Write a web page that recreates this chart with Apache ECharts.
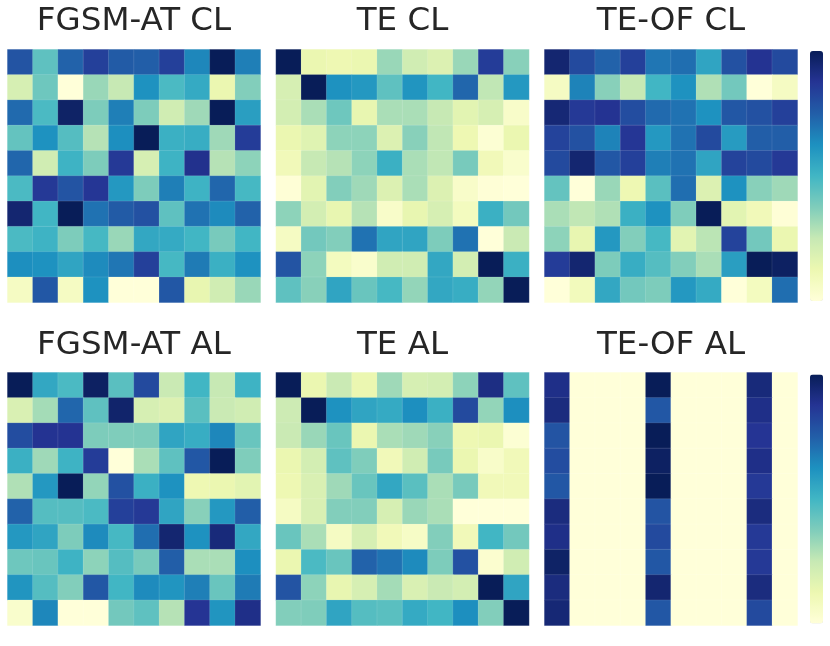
<!DOCTYPE html>
<html>
<head>
<meta charset="utf-8">
<script src="https://cdn.jsdelivr.net/npm/echarts@6/dist/echarts.min.js"></script>
<style>
  html, body { margin: 0; padding: 0; background: #fff; }
  #chart { width: 830px; height: 646px; }
</style>
</head>
<body>
<div id="chart"></div>
<script>
// 各子图的 10x10 数值（按行，从上到下），数值已归一化到 0~1
var fgsmCL = [
    [0.78, 0.44, 0.74, 0.84, 0.76, 0.75, 0.84, 0.65, 1.00, 0.67],
    [0.20, 0.41, 0.00, 0.33, 0.25, 0.62, 0.48, 0.54, 0.13, 0.37],
    [0.72, 0.48, 0.97, 0.38, 0.67, 0.38, 0.22, 0.32, 1.00, 0.58],
    [0.43, 0.62, 0.46, 0.28, 0.63, 1.00, 0.52, 0.53, 0.32, 0.85],
    [0.73, 0.22, 0.51, 0.38, 0.86, 0.20, 0.51, 0.89, 0.28, 0.35],
    [0.48, 0.86, 0.78, 0.87, 0.60, 0.38, 0.67, 0.51, 0.73, 0.49],
    [0.95, 0.50, 1.00, 0.70, 0.76, 0.79, 0.44, 0.70, 0.64, 0.74],
    [0.48, 0.51, 0.38, 0.49, 0.33, 0.55, 0.54, 0.50, 0.39, 0.50],
    [0.63, 0.62, 0.56, 0.64, 0.69, 0.84, 0.49, 0.68, 0.52, 0.62],
    [0.07, 0.77, 0.07, 0.62, 0.00, 0.00, 0.77, 0.14, 0.22, 0.33]
];
var teCL = [
    [1.00, 0.13, 0.12, 0.13, 0.33, 0.22, 0.18, 0.33, 0.85, 0.36],
    [0.20, 1.00, 0.62, 0.60, 0.44, 0.61, 0.50, 0.73, 0.26, 0.60],
    [0.21, 0.30, 0.41, 0.14, 0.30, 0.30, 0.25, 0.16, 0.20, 0.05],
    [0.13, 0.17, 0.35, 0.35, 0.18, 0.36, 0.26, 0.12, 0.02, 0.13],
    [0.10, 0.25, 0.28, 0.35, 0.52, 0.30, 0.26, 0.39, 0.10, 0.04],
    [0.01, 0.16, 0.37, 0.32, 0.18, 0.30, 0.18, 0.05, 0.01, 0.00],
    [0.35, 0.21, 0.14, 0.28, 0.05, 0.14, 0.20, 0.08, 0.52, 0.40],
    [0.07, 0.40, 0.37, 0.70, 0.56, 0.56, 0.38, 0.70, 0.00, 0.24],
    [0.78, 0.35, 0.08, 0.04, 0.22, 0.22, 0.55, 0.21, 1.00, 0.52],
    [0.44, 0.36, 0.56, 0.42, 0.49, 0.34, 0.55, 0.53, 0.34, 1.00]
];
var teofCL = [
    [0.95, 0.81, 0.74, 0.84, 0.69, 0.71, 0.56, 0.79, 0.88, 0.81],
    [0.07, 0.66, 0.36, 0.25, 0.50, 0.62, 0.29, 0.40, 0.00, 0.07],
    [0.94, 0.86, 0.88, 0.80, 0.72, 0.70, 0.62, 0.77, 0.79, 0.84],
    [0.83, 0.79, 0.66, 0.87, 0.60, 0.70, 0.81, 0.59, 0.75, 0.75],
    [0.81, 0.95, 0.77, 0.84, 0.67, 0.70, 0.56, 0.83, 0.81, 0.86],
    [0.43, 0.00, 0.33, 0.12, 0.45, 0.71, 0.18, 0.62, 0.36, 0.32],
    [0.30, 0.26, 0.29, 0.52, 0.62, 0.375, 1.00, 0.16, 0.10, 0.01],
    [0.35, 0.14, 0.60, 0.37, 0.49, 0.16, 0.27, 0.83, 0.40, 0.13],
    [0.85, 0.95, 0.38, 0.53, 0.46, 0.37, 0.30, 0.58, 1.00, 0.98],
    [0.00, 0.09, 0.55, 0.40, 0.38, 0.60, 0.54, 0.00, 0.08, 0.71]
];
var fgsmAL = [
    [1.00, 0.55, 0.48, 0.98, 0.45, 0.81, 0.24, 0.50, 0.25, 0.51],
    [0.19, 0.31, 0.73, 0.44, 0.96, 0.20, 0.18, 0.45, 0.24, 0.22],
    [0.80, 0.88, 0.88, 0.38, 0.375, 0.38, 0.56, 0.53, 0.65, 0.42],
    [0.52, 0.32, 0.51, 0.85, 0.00, 0.30, 0.44, 0.77, 1.00, 0.375],
    [0.29, 0.60, 1.00, 0.34, 0.79, 0.52, 0.62, 0.12, 0.13, 0.16],
    [0.74, 0.46, 0.46, 0.48, 0.84, 0.86, 0.56, 0.36, 0.60, 0.75],
    [0.60, 0.56, 0.38, 0.64, 0.49, 0.71, 0.95, 0.62, 0.93, 0.55],
    [0.41, 0.42, 0.51, 0.35, 0.46, 0.39, 0.75, 0.30, 0.30, 0.63],
    [0.61, 0.46, 0.37, 0.77, 0.50, 0.64, 0.61, 0.67, 0.42, 0.68],
    [0.04, 0.65, 0.00, 0.00, 0.40, 0.44, 0.28, 0.875, 0.61, 0.90]
];
var teAL = [
    [1.00, 0.13, 0.24, 0.13, 0.32, 0.20, 0.21, 0.35, 0.91, 0.44],
    [0.23, 1.00, 0.62, 0.56, 0.54, 0.63, 0.52, 0.81, 0.34, 0.63],
    [0.24, 0.33, 0.42, 0.13, 0.30, 0.32, 0.36, 0.12, 0.13, 0.02],
    [0.13, 0.21, 0.44, 0.375, 0.10, 0.22, 0.39, 0.13, 0.05, 0.10],
    [0.12, 0.19, 0.32, 0.42, 0.55, 0.45, 0.30, 0.39, 0.10, 0.10],
    [0.07, 0.19, 0.37, 0.37, 0.20, 0.33, 0.30, 0.00, 0.00, 0.00],
    [0.42, 0.30, 0.07, 0.20, 0.10, 0.06, 0.37, 0.10, 0.50, 0.40],
    [0.13, 0.48, 0.42, 0.74, 0.70, 0.64, 0.38, 0.79, 0.03, 0.22],
    [0.78, 0.35, 0.14, 0.20, 0.31, 0.19, 0.24, 0.21, 1.00, 0.56],
    [0.37, 0.375, 0.56, 0.46, 0.45, 0.54, 0.50, 0.63, 0.37, 1.00]
];
var teofAL = [
    [0.90, 0, 0, 0, 1.00, 0, 0, 0, 0.93, 0],
    [0.92, 0, 0, 0, 0.77, 0, 0, 0, 0.90, 0],
    [0.78, 0, 0, 0, 1.00, 0, 0, 0, 0.875, 0],
    [0.80, 0, 0, 0, 0.98, 0, 0, 0, 0.90, 0],
    [0.77, 0, 0, 0, 1.00, 0, 0, 0, 0.86, 0],
    [0.92, 0, 0, 0, 0.78, 0, 0, 0, 0.92, 0],
    [0.90, 0, 0, 0, 0.81, 0, 0, 0, 0.86, 0],
    [0.97, 0, 0, 0, 0.77, 0, 0, 0, 0.86, 0],
    [0.92, 0, 0, 0, 0.95, 0, 0, 0, 0.92, 0],
    [0.94, 0, 0, 0, 0.77, 0, 0, 0, 0.81, 0]
];

var titles = ['FGSM-AT CL', 'TE CL', 'TE-OF CL', 'FGSM-AT AL', 'TE AL', 'TE-OF AL'];
var matrices = [fgsmCL, teCL, teofCL, fgsmAL, teAL, teofAL];
var cats = ['0', '1', '2', '3', '4', '5', '6', '7', '8', '9'];

// YlGnBu 色带
var ylGnBu = ['#ffffd9', '#edf8b1', '#c7e9b4', '#7fcdbb', '#41b6c4',
              '#1d91c0', '#225ea8', '#253494', '#081d58'];

var chart = echarts.init(document.getElementById('chart'));

var lefts = [7.5, 276, 544.5];
var tops = [49.5, 372.5];
var size = 253;

var grids = [], xAxes = [], yAxes = [], series = [], titleList = [];

matrices.forEach(function (m, i) {
    var col = i % 3, row = Math.floor(i / 3);
    grids.push({ left: lefts[col], top: tops[row], width: size, height: size });
    xAxes.push({ type: 'category', gridIndex: i, data: cats, show: false });
    yAxes.push({ type: 'category', gridIndex: i, data: cats, show: false, inverse: true });

    var data = [];
    m.forEach(function (r, y) {
        r.forEach(function (v, x) { data.push([x, y, v]); });
    });
    series.push({
        type: 'heatmap',
        xAxisIndex: i,
        yAxisIndex: i,
        data: data,
        itemStyle: { borderColor: 'rgba(255,255,255,0.22)', borderWidth: 0.5 },
        emphasis: { disabled: true }
    });

    titleList.push({
        text: titles[i],
        left: lefts[col] + size / 2,
        textAlign: 'center',
        top: row === 0 ? 5 : 329.5,
        padding: 0,
        textStyle: { fontFamily: 'DejaVu Sans', fontSize: 32.5, fontWeight: 'normal', color: '#262626' }
    });
});

var option = {
    animation: false,
    title: titleList,
    grid: grids,
    xAxis: xAxes,
    yAxis: yAxes,
    // 两个色条，分别对应上下两行
    visualMap: [
        {
            type: 'continuous', min: 0, max: 1, seriesIndex: [0, 1, 2],
            orient: 'vertical', left: 810, top: 51, padding: 0,
            itemWidth: 13, itemHeight: 250, calculable: false, text: null,
            inRange: { color: ylGnBu }
        },
        {
            type: 'continuous', min: 0, max: 1, seriesIndex: [3, 4, 5],
            orient: 'vertical', left: 810, top: 374.5, padding: 0,
            itemWidth: 13, itemHeight: 249, calculable: false, text: null,
            inRange: { color: ylGnBu }
        }
    ],
    series: series
};

chart.setOption(option);
</script>
</body>
</html>
